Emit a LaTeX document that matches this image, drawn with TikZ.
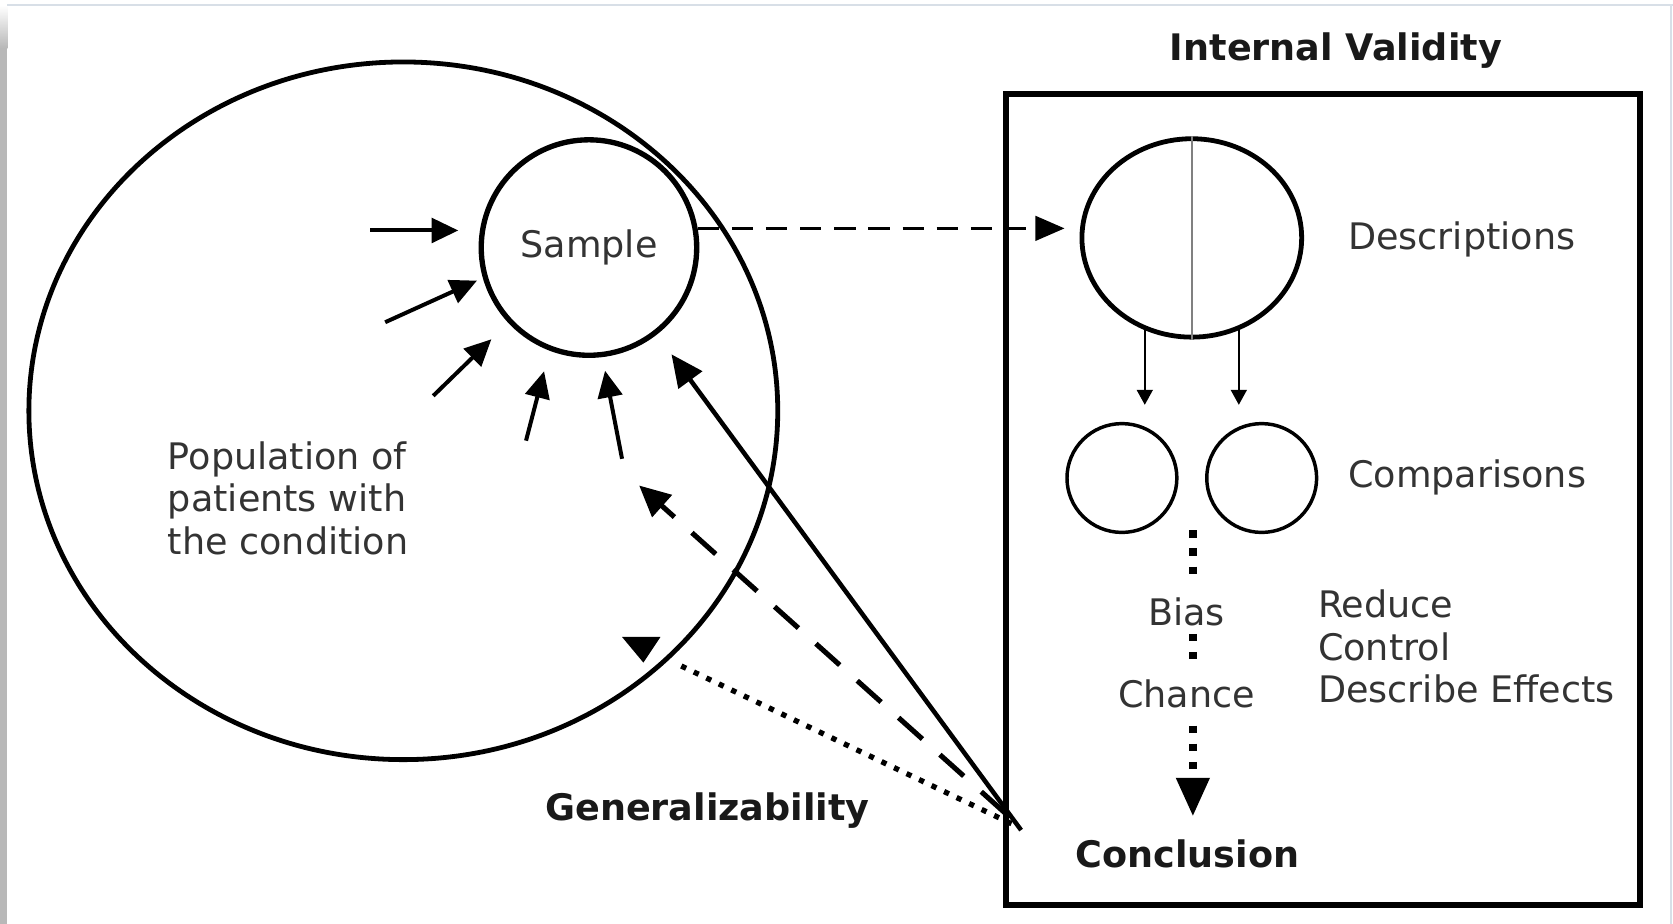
\documentclass[tikz,border=0pt]{standalone}
\usepackage{fontspec}
\setmainfont{DejaVu Sans}
\usetikzlibrary{arrows.meta,shapes.geometric}
\definecolor{txt}{HTML}{333333}
\definecolor{frameline}{HTML}{D8DFE7}
\definecolor{frameside}{HTML}{B8B8B8}
\begin{document}
\begin{tikzpicture}[x=0.02cm,y=-0.02cm,
  lbl/.style={font=\fontsize{19.5}{22.8}\selectfont, text=txt, inner sep=0pt},
  blbl/.style={font=\fontsize{19.5}{22.8}\selectfont\bfseries, text=black!90, inner sep=0pt},
  shapeline/.style={draw, inner sep=0pt, line width=0.09cm},
  inarrow/.style={line width=0.075cm, -{Triangle[length=0.5cm,width=0.46cm]}},
  bigarrow/.style={line width=0.085cm, -{Triangle[length=0.6cm,width=0.54cm]}},
  longdash/.style={line width=0.095cm, dash pattern=on 0.6cm off 0.44cm, -{Triangle[length=0.58cm,width=0.54cm]}},
  sampledash/.style={line width=0.06cm, dash pattern=on 0.4cm off 0.24cm, -{Triangle[length=0.55cm,width=0.46cm]}},
  dotline/.style={line width=0.1cm, dash pattern=on 0.1cm off 0.16cm},
  vdot/.style={line width=0.14cm, dash pattern=on 0.14cm off 0.2cm},
  smallarrow/.style={line width=0.03cm, -{Triangle[length=0.28cm,width=0.3cm]}}
]
\useasboundingbox (0,0) rectangle (1568,866);
% screenshot frame
\fill[white] (0,0) rectangle (1568,866);
\shade[top color=white, bottom color=frameside] (0,5) rectangle (7,45);
\fill[frameside] (0,45) rectangle (7,866);
\draw[frameline, line width=0.04cm] (7,5) -- (1568,5);
\draw[frameline, line width=0.03cm] (1566,5) -- (1566,866);

% population and sample
\node[shapeline, ellipse, minimum width=14.04cm, minimum height=13.08cm] (pop) at (378,385) {};
\node[shapeline, circle, line width=0.1cm, minimum size=4.04cm, lbl] (sample) at (552,232) {Sample};
\node[lbl, anchor=west, align=left] (poptext) at (157,467) {Population of\\patients with\\the condition};

% arrows into sample
\coordinate (a1) at (347,216);
\coordinate (a2) at (361,302);
\coordinate (a3) at (406,371);
\coordinate (a4) at (493,413);
\coordinate (a5) at (583,430);
\draw[inarrow, shorten >=0.38cm] (a1) -- (a1 -| sample.west);
\draw[inarrow, shorten >=0.12cm] (a2) -- (sample.196);
\draw[inarrow, shorten >=0.44cm] (a3) -- (sample.223);
\draw[inarrow, shorten >=0.4cm] (a4) -- (sample.249);
\draw[inarrow, shorten >=0.26cm] (a5) -- (sample.277);

% internal validity box
\node[blbl] (iv) at (1252,47) {Internal Validity};
\node[draw, line width=0.11cm, minimum width=11.88cm, minimum height=15.2cm, inner sep=0pt] (box) at (1240,468) {};
\node[shapeline, ellipse, minimum width=4.12cm, minimum height=3.72cm] (desc) at (1117,223) {};
\draw[gray, line width=0.03cm] (desc.north) -- (desc.south);
\node[shapeline, ellipse, line width=0.065cm, minimum width=2.06cm, minimum height=2.04cm] (cmpL) at (1051.5,448) {};
\node[shapeline, ellipse, line width=0.065cm, minimum width=2.06cm, minimum height=2.04cm] (cmpR) at (1182.5,448) {};
\node[lbl] (descl) at (1370,224) {Descriptions};
\node[lbl] (cmpl) at (1375,447) {Comparisons};
\node[lbl, anchor=west, align=left] (rcd) at (1235,606) {Reduce\\Control\\Describe Effects};
\node[lbl] (bias) at (1112,573) {Bias};
\node[lbl] (chance) at (1112,650) {Chance};
\node[blbl] (concl) at (1113,800) {Conclusion};

\draw[smallarrow, shorten >=0.32cm] (desc.243) -- (desc.243 |- cmpL.north);
\draw[smallarrow, shorten >=0.32cm] (desc.297) -- (desc.297 |- cmpR.north);

\coordinate (d1) at (1118,497);
\coordinate (d2) at (1118,538);
\coordinate (d3) at (1118,594);
\coordinate (d4) at (1118,622);
\coordinate (d5) at (1118,680);
\coordinate (d6) at (1118,765);
\draw[vdot] (d1) -- (d2);
\draw[vdot] (d3) -- (d4);
\draw[vdot, -{Triangle[length=0.72cm,width=0.6cm,sep=0pt]}] (d5) -- (d6);

% sample -> descriptions
\draw[sampledash, shorten >=0.28cm] (sample.10) -- (sample.10 -| desc.west);

% generalizability lines
\coordinate (cv) at (957,778);
\coordinate (cvd) at (942,762);
\coordinate (cvt) at (948,772);
\coordinate (dtip) at (599,455);
\coordinate (gend) at (634,622);
\draw[bigarrow, shorten >=0.46cm] (cv) -- (sample.308);
\draw[longdash] (cvd) -- (dtip);
\draw[dotline] (cvt) -- (gend);
\fill (583,597) -- (619,597) -- (603,621) -- cycle;
\node[blbl] (gen) at (663,760) {Generalizability};
\end{tikzpicture}
\end{document}
